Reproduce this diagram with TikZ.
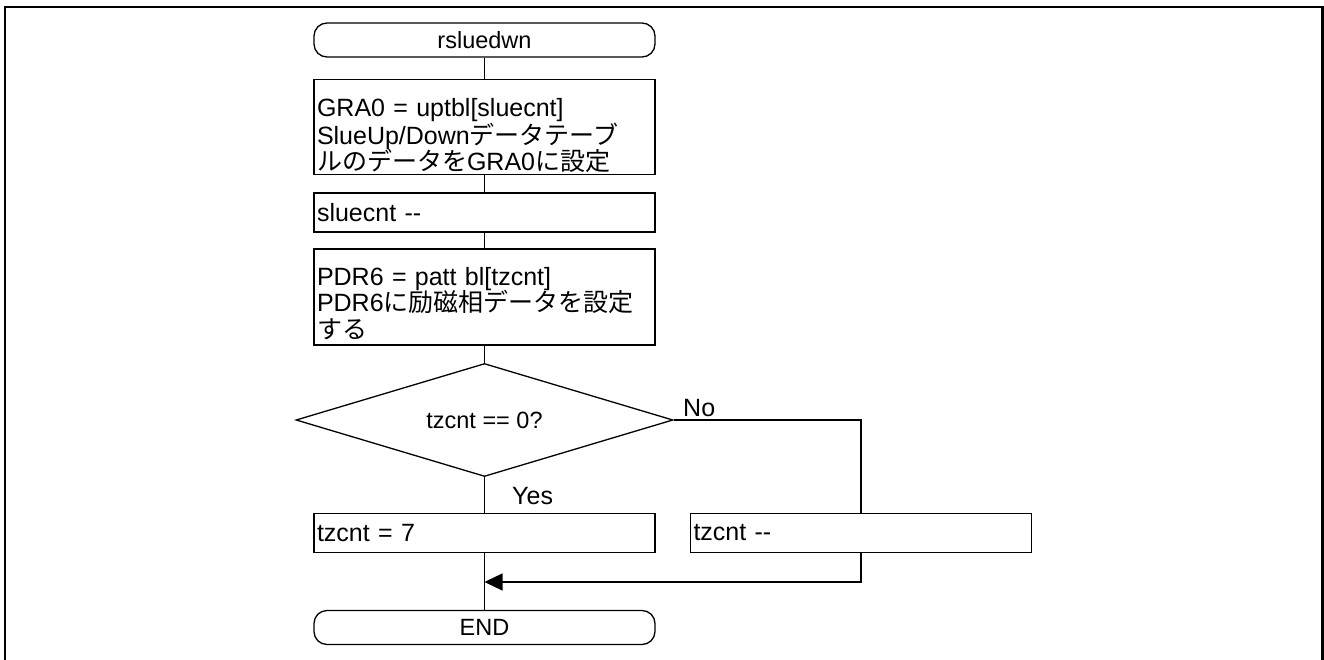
\documentclass[tikz,border=0pt]{standalone}
\usepackage{fontspec}
\setmainfont{Liberation Sans}
\newfontfamily\jpfont{Noto Sans CJK JP}
\usetikzlibrary{shapes.geometric,arrows.meta}

\newcommand{\jp}[1]{{\jpfont #1}}
\newcommand{\bigtxt}{\fontsize{25}{26.5}\selectfont}
\newcommand{\smalltxt}{\fontsize{23.5}{25}\selectfont}

\tikzset{
    proc/.style={draw, line width=1.3pt, minimum height=39pt, text width=335pt,
        align=left, inner xsep=3pt, inner ysep=0pt, font=\bigtxt},
    term/.style={draw, line width=1.3pt, rounded corners=13pt, minimum width=341pt,
        minimum height=34pt, inner sep=0pt, font=\smalltxt},
    decide/.style={draw, line width=1.3pt, diamond, aspect=3.34, minimum width=377pt,
        minimum height=113pt, inner sep=0pt, font=\smalltxt},
    flow/.style={line width=1.3pt},
    answer/.style={anchor=base west, inner sep=0pt, font=\bigtxt},
}

\begin{document}
\begin{tikzpicture}[x=1pt, y=-1pt]
        \useasboundingbox (0,0) rectangle (1324,660);
        \draw[line width=2.2pt] (5,670) -- (5,7) -- (1322.5,7) -- (1322.5,670);

        \node[term] (start) at (484.5,40) {rsluedwn};
        \node[proc] (setgra) at (484.5,127) {\rule{0pt}{37pt}GRA0 = uptbl[sluecnt]\\
            SlueUp/Down\jp{データテーブ}\\
            \jp{ルのデータを}GRA0\jp{に設定}\rule[-4pt]{0pt}{4pt}};
        \node[proc] (decslue) at (484.5,212.5) {sluecnt -{}-};
        \node[proc] (setpdr) at (484.5,297) {\rule{0pt}{36pt}PDR6 = patt bl[tzcnt]\\
            PDR6\jp{に励磁相データを設定}\\
            \jp{する}\rule[-7pt]{0pt}{7pt}};
        \node[decide] (check) at (484.5,420) {tzcnt == 0?};
        \node[proc] (reset) at (484.5,533) {tzcnt = 7};
        \node[proc] (dectz) at (861,533) {tzcnt -{}-};
        \node[term] (finish) at (484.5,627.5) {END};

        \node[answer] (no) at (683,416) {No};
        \node[answer] (yes) at (512,504) {Yes};

        \coordinate (merge) at (484.5,582);

        \draw[flow] (start) -- (setgra);
        \draw[flow] (setgra) -- (decslue);
        \draw[flow] (decslue) -- (setpdr);
        \draw[flow] (setpdr) -- (check);
        \draw[flow] (check.south) -- (reset);
        \draw[flow] (check.east) -| (dectz.north);
        \draw[flow] (reset) -- (finish);
        \draw[flow, -{Triangle[length=18pt,width=17pt]}] (dectz.south) |- (merge);
    \end{tikzpicture}
\end{document}
